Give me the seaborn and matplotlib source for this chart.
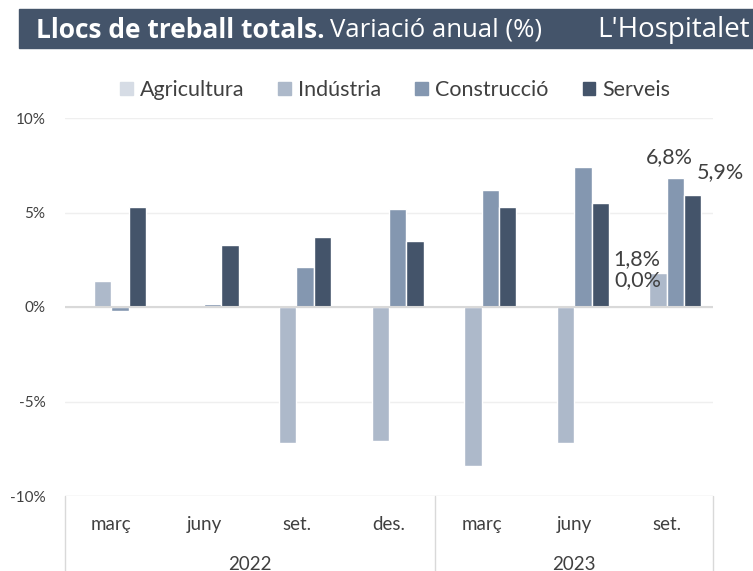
import numpy as np
import pandas as pd
import matplotlib
matplotlib.use("Agg")
import matplotlib.pyplot as plt
import seaborn as sns

# Data (annual change, %)
periods = ["2022 març", "2022 juny", "2022 set.", "2022 des.",
           "2023 març", "2023 juny", "2023 set."]
month_labels = ["març", "juny", "set.", "des.", "març", "juny", "set."]
years = ["2022", "2023"]
year_spans = [4, 3]
sectors = ["Agricultura", "Indústria", "Construcció", "Serveis"]

agricultura = [np.nan, np.nan, np.nan, np.nan, np.nan, np.nan, 0.0]
industria = [1.4, 0.0, -7.2, -7.1, -8.4, -7.2, 1.8]
construccio = [-0.2, 0.15, 2.1, 5.2, 6.2, 7.4, 6.8]
serveis = [5.3, 3.3, 3.7, 3.5, 5.3, 5.5, 5.9]

colors = ["#d6dce5", "#adb9ca", "#8497b0", "#44546a"]
HEADER = "#44546a"
TEXT = "#404040"

df = pd.DataFrame({
    "period": periods * 4,
    "sector": np.repeat(sectors, len(periods)),
    "value": agricultura + industria + construccio + serveis,
})

sns.set_style("white")
plt.rcParams["font.family"] = ["Lato", "DejaVu Sans"]

fig = plt.figure(figsize=(7.53, 5.71), dpi=100)
ax = fig.add_axes([65 / 753, 1 - 496 / 571, 648 / 753, 378 / 571])

sns.barplot(data=df, x="period", y="value", hue="sector", order=periods,
            hue_order=sectors, palette=colors, width=0.75, ax=ax,
            legend=False, saturation=1)

ax.set_ylim(-10, 10)
ax.set_xlim(-0.5, len(periods) - 0.5)
ax.set_yticks([-10, -5, 0, 5, 10])
ax.set_yticklabels(["-10%", "-5%", "0%", "5%", "10%"], fontsize=11, color=TEXT)
ax.tick_params(axis="y", length=0, pad=14)
ax.set_xticks([])
ax.set_xlabel("")
ax.set_ylabel("")
for s in ax.spines.values():
    s.set_visible(False)
ax.grid(axis="y", color="#efefef", linewidth=1)
ax.set_axisbelow(True)
ax.axhline(0, color="#d9d9d9", linewidth=1.5, zorder=3)

# two-level category axis underneath
ax.axhline(-10, color="#efefef", linewidth=1)
bounds = [-0.5]
for n in year_spans:
    bounds.append(bounds[-1] + n)
for b in bounds:
    ax.plot([b, b], [0, -0.2], transform=ax.get_xaxis_transform(),
            color="#d9d9d9", linewidth=1, clip_on=False)
for i, m in enumerate(month_labels):
    ax.text(i, -0.075, m, transform=ax.get_xaxis_transform(), ha="center",
            va="center", fontsize=13.5, color=TEXT)
for y, a, b in zip(years, bounds[:-1], bounds[1:]):
    ax.text((a + b) / 2, -0.18, y, transform=ax.get_xaxis_transform(),
            ha="center", va="center", fontsize=13.5, color=TEXT)

# data labels on the last period only (last bar of each hue container)
offsets = {"Agricultura": (-2, 12), "Indústria": (-15, 3),
           "Construcció": (-4, 8), "Serveis": (20, 10)}
for cont, sector in zip(ax.containers, sectors):
    bar = max(cont.patches, key=lambda p: p.get_x())
    val = df[(df.sector == sector) & (df.period == periods[-1])].value.iloc[0]
    x = bar.get_x() + bar.get_width() / 2
    dx, dy = offsets[sector]
    ax.annotate(f"{val:.1f}%".replace(".", ","), (x, max(val, 0)),
                xytext=(dx, dy), textcoords="offset points", ha="center",
                va="bottom", fontsize=15.5, color=TEXT)

# legend
handles = [plt.Rectangle((0, 0), 1, 1, color=c) for c in colors]
fig.legend(handles, sectors, loc="center", bbox_to_anchor=(395 / 753, 1 - 90 / 571),
           ncol=4, frameon=False, fontsize=15.5, handlelength=0.6,
           handleheight=0.6, handletextpad=0.3, columnspacing=1.6,
           labelcolor=TEXT)

# header bar
fig.patches.append(plt.Rectangle((19 / 753, 1 - 48 / 571), 1, 39 / 571,
                                 transform=fig.transFigure, color=HEADER,
                                 zorder=0))
fig.text(36 / 753, 1 - 30 / 571, "Llocs de treball totals.", fontsize=19,
         fontweight="bold", color="white", va="center", family="Open Sans")
fig.text(330 / 753, 1 - 30 / 571, "Variació anual (%)", fontsize=18.5,
         color="white", va="center", family="Open Sans")
fig.text(750 / 753, 1 - 30 / 571, "L'Hospitalet", fontsize=20,
         color="white", va="center", ha="right", family="Open Sans")

fig.savefig("out.png", dpi=100)
